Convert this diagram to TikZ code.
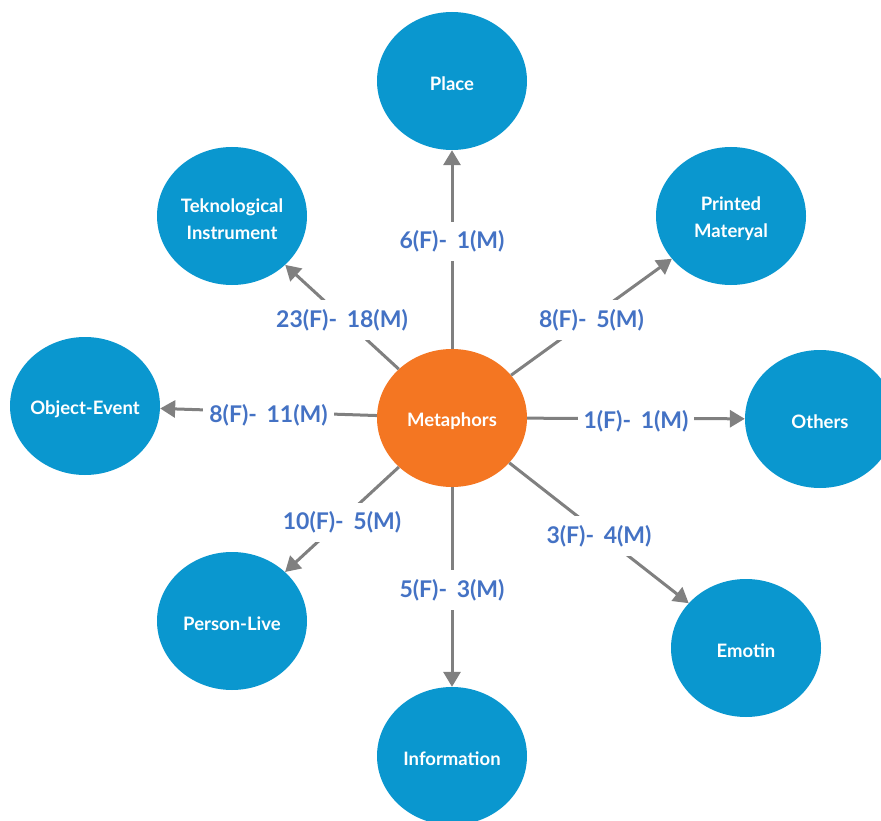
\documentclass[tikz,border=0pt]{standalone}
\usepackage{fontspec}
\setmainfont{Lato}
\usetikzlibrary{arrows.meta,shapes.geometric}
\definecolor{nodeblue}{HTML}{0A97CF}
\definecolor{metaorange}{HTML}{F47622}
\definecolor{lblblue}{HTML}{4472C4}
\definecolor{linegray}{HTML}{808080}
\begin{document}
\begin{tikzpicture}[x=1pt,y=-1pt,
  cat/.style={ellipse, fill=nodeblue, minimum width=150pt, minimum height=138pt,
    inner sep=0pt},
  hub/.style={cat, fill=metaorange},
  ctext/.style={text=white, align=center, inner sep=0pt,
    font=\fontsize{18.5}{27}\selectfont\bfseries},
  conn/.style={draw=linegray, line width=3pt,
    -{Triangle[length=15pt,width=17pt]}},
  lbl/.style={fill=white, text=lblblue, inner xsep=6pt, inner ysep=9pt,
    yshift=-3pt, font=\fontsize{23}{27}\selectfont\bfseries}]
\clip (0,0) rectangle (881,821);
\useasboundingbox (0,0) rectangle (881,821);
\fill[white] (0,0) rectangle (881,821);
\node[hub] (met) at (452,418) {};
\node[cat] (place) at (452,81) {};
\node[cat] (tek) at (232,216) {};
\node[cat] (prt) at (731,216) {};
\node[cat] (obj) at (85,406) {};
\node[cat] (oth) at (820,419) {};
\node[cat] (per) at (232,621) {};
\node[cat] (emo) at (746,648) {};
\node[cat] (inf) at (452,756) {};
\node[ctext] (mett) at ([yshift=-3pt]met.center) {Metaphors};
\node[ctext] (placet) at ([yshift=-3pt]place.center) {Place};
\node[ctext] (tekt) at ([yshift=-3pt]tek.center) {Teknological\\Instrument};
\node[ctext] (prtt) at ([yshift=-3pt]prt.center) {Printed\\Materyal};
\node[ctext] (objt) at ([yshift=-3pt]obj.center) {Object-Event};
\node[ctext] (otht) at ([yshift=-3pt]oth.center) {Others};
\node[ctext] (pert) at ([yshift=-3pt]per.center) {Person-Live};
\node[ctext] (emot) at ([yshift=-3pt]emo.center) {Emotin};
\node[ctext] (inft) at ([yshift=-3pt]inf.center) {Information};
\draw[conn] (met) -- node[lbl, pos=0.555] {6(F)-\hspace{0.42em}1(M)} (place);
\draw[conn] (met) -- node[lbl] {23(F)-\hspace{0.42em}18(M)} (tek);
\draw[conn] (met) -- node[lbl] {8(F)-\hspace{0.42em}5(M)} (prt);
\draw[conn] (met) -- node[lbl] {8(F)-\hspace{0.42em}11(M)} (obj);
\draw[conn] (met) -- node[lbl] {1(F)-\hspace{0.42em}1(M)} (oth);
\draw[conn] (met) -- node[lbl] {10(F)-\hspace{0.42em}5(M)} (per);
\draw[conn] (met) -- node[lbl] {3(F)-\hspace{0.42em}4(M)} (emo);
\draw[conn] (met) -- node[lbl] {5(F)-\hspace{0.42em}3(M)} (inf);
\end{tikzpicture}
\end{document}
